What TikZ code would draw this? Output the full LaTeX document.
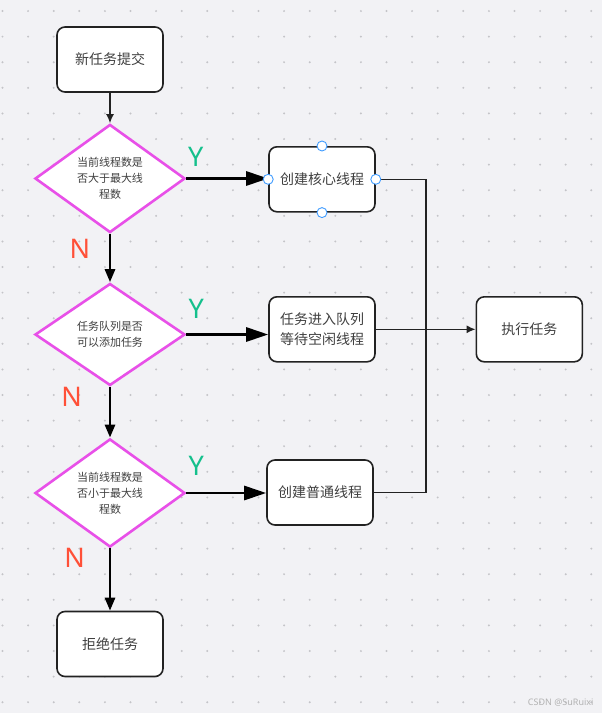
\documentclass[tikz,border=0pt]{standalone}
\usepackage{fontspec}
\setmainfont{Noto Sans CJK SC}
\newfontfamily\latinfont{Noto Sans}
\usepackage{tikz}
\usetikzlibrary{
  shapes.geometric,
  arrows.meta,
  positioning,
  calc,
  }

\definecolor{bgcol}{RGB}{242,242,245}
\definecolor{dotcol}{RGB}{196,196,200}
\definecolor{inkcol}{RGB}{34,34,34}
\definecolor{txtcol}{RGB}{64,64,64}
\definecolor{pinkcol}{RGB}{232,80,232}
\definecolor{yescol}{RGB}{20,192,140}
\definecolor{nocol}{RGB}{255,80,56}
\definecolor{handlecol}{RGB}{64,156,255}

\begin{document}
\begin{tikzpicture}[x=1pt, y=-1pt,
                    every node/.style={text=txtcol},
                    box/.style={draw=inkcol, fill=white, line width=1.6pt, rounded corners=8pt,
                                minimum width=106pt, minimum height=65pt, align=center,
                                font=\fontsize{14pt}{20.5pt}\selectfont},
                    ask/.style={diamond, draw=pinkcol, fill=white, line width=2.6pt, inner sep=0pt,
                                minimum width=150pt, minimum height=102pt, align=center,
                                font=\fontsize{11pt}{16pt}\selectfont},
                    yes/.style={text=yescol, font=\latinfont\fontsize{27pt}{27pt}\selectfont},
                    no/.style={text=nocol, font=\latinfont\fontsize{27pt}{27pt}\selectfont},
                    handle/.style={circle, draw=handlecol, fill=white, line width=0.9pt,
                                   inner sep=0pt, minimum size=10pt},
                    thinflow/.style={draw=inkcol, line width=1.2pt, -{Latex[length=9pt,width=8pt]}},
                    yesflow/.style={draw=black, line width=2.8pt, -{Triangle[length=22pt,width=14pt]}},
                    noflow/.style={draw=black, line width=2.8pt, -{Triangle[length=13pt,width=10pt]}},
                    joinline/.style={draw=inkcol, line width=1.2pt},
                   ]
                    % background and dotted grid
                    \fill[bgcol] (0,0) rectangle (602,713);
                    \useasboundingbox (0,0) rectangle (602,713);
                    \foreach \i in {0,...,23}
                        \foreach \j in {0,...,27}
                            \fill[dotcol] (2.5+25.6*\i, 11+25.6*\j) circle (1.1pt);

                    % left column
                    \node[box] (n1) at (110,59.5) {新任务提交};
                    \node[ask] (n2) at (110,178.5) {当前线程数是\\否大于最大线\\程数};
                    \node[ask] (n3) at (110,334.5) {任务队列是否\\可以添加任务};
                    \node[ask] (n4) at (110,493) {当前线程数是\\否小于最大线\\程数};
                    \node[box] (n5) at (110,644) {拒绝任务};

                    % middle column
                    \node[box] (n6) at (322,179.3) {创建核心线程};
                    \node[box] (n7) at (322,329.3) {任务进入队列\\等待空闲线程};
                    \node[box] (n8) at (320,492.5) {创建普通线程};

                    % right column
                    \node[box] (n9) at (529.3,329.3) {执行任务};
                    \coordinate (j1) at (426,329.3);

                    % labels
                    \node[yes] (y1) at (195.7,157) {Y};
                    \node[yes] (y2) at (196.3,308.8) {Y};
                    \node[yes] (y3) at (196.3,465.8) {Y};
                    \node[no] (m1) at (80,248.8) {N};
                    \node[no] (m2) at (71.7,397) {N};
                    \node[no] (m3) at (74.7,557.5) {N};

                    % connectors
                    \draw[thinflow] (n1.south) -- (n2.north);
                    \draw[noflow] (n2.south) -- (n3.north);
                    \draw[noflow] (n3.south) -- (n4.north);
                    \draw[noflow] (n4.south) -- (n5.north);
                    \draw[yesflow] (n2.east) -- (n2.east -| n6.west);
                    \draw[yesflow] (n3.east) -- (n3.east -| n7.west);
                    \draw[yesflow] (n4.east) -- (n4.east -| n8.west);
                    \draw[joinline] (n6.east) -| (j1);
                    \draw[joinline] (n8.east) -| (j1);
                    \draw[thinflow] (n7.east) -- (n9.west);

                    % selection handles
                    \node[handle] (h1) at (n6.north) {};
                    \node[handle] (h2) at (n6.south) {};
                    \node[handle] (h3) at (n6.west) {};
                    \node[handle] (h4) at (n6.east) {};

                    % watermark
                    \node[text=black!30, font=\latinfont\fontsize{9pt}{9pt}\selectfont, anchor=east]
                        (wm) at (597,703) {CSDN @SuRuixi};
\end{tikzpicture}
\end{document}
